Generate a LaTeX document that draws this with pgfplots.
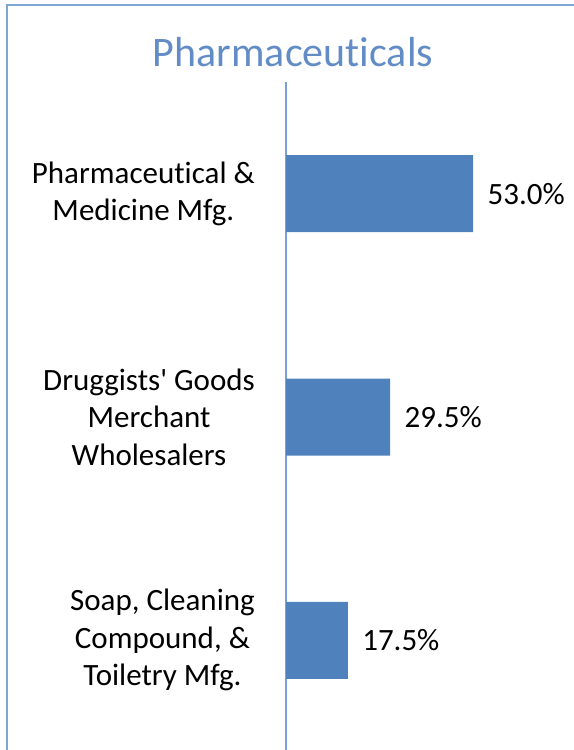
\documentclass[border=0pt]{standalone}
\usepackage{pgfplots}
\pgfplotsset{compat=1.18}
\usepackage{fontspec}
\setmainfont{Carlito}[Ligatures={TeX,NoCommon}]
\definecolor{barblue}{RGB}{79,129,189}
\definecolor{axblue}{RGB}{122,160,212}
\definecolor{titleblue}{RGB}{98,140,198}
\definecolor{frameblue}{RGB}{128,164,214}
\begin{document}
\begin{tikzpicture}
\useasboundingbox (0,0) rectangle (574bp,750bp);
\begin{scope}
\clip (0,0) rectangle (574bp,750bp);
\draw[frameblue, line width=2.5bp] (7bp,0bp) -- (7bp,746.25bp);
\draw[frameblue, line width=2.5bp] (5.75bp,745bp) -- (574bp,745bp);
\end{scope}
\node[titleblue, font=\fontsize{42bp}{50bp}\selectfont] at (293bp,698bp) {Pharmaceuticals};
\begin{axis}[
  at={(286bp,0bp)}, anchor=south west,
  scale only axis, width=270bp, height=668bp,
  xbar, bar width=77bp,
  y dir=reverse,
  xmin=0, xmax=76.5, ymin=-0.5, ymax=2.491,
  axis x line=none,
  axis y line=left,
  axis line style={-, axblue, line width=1.5bp},
  ytick={0,1,2},
  major tick length=0pt,
  yticklabels={{Pharmaceutical \&\\Medicine Mfg.},{Druggists\textquotesingle{} Goods\\Merchant\\Wholesalers},{Soap, Cleaning\\Compound, \&\\Toiletry Mfg.}},
  yticklabel style={align=center, inner sep=0pt, anchor=east, xshift=-31bp, font=\fontsize{31bp}{37.5bp}\selectfont},
  nodes near coords={\pgfmathprintnumber[fixed,fixed zerofill,precision=1]{\pgfplotspointmeta}\%},
  nodes near coords style={anchor=west, xshift=11bp, font=\fontsize{31bp}{37.5bp}\selectfont, black},
  /pgf/number format/assume math mode=true,
  clip=false,
]
\addplot[fill=barblue, draw=none] coordinates {(53.0,0) (29.5,1) (17.5,2)};
\end{axis}
\end{tikzpicture}
\end{document}
